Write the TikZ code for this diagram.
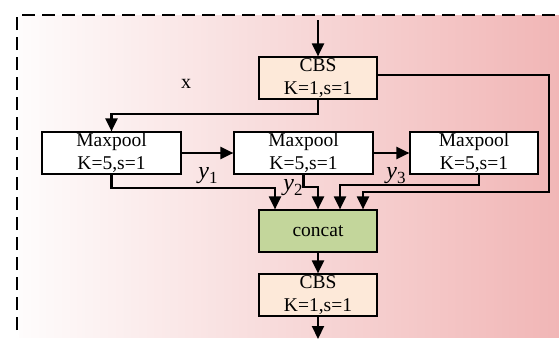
\documentclass[tikz,border=0pt]{standalone}
\usepackage{fontspec}
\setmainfont{Liberation Serif}
\usetikzlibrary{arrows.meta}
\definecolor{bgL}{RGB}{254,252,252}
\definecolor{bgR}{RGB}{241,182,182}
\definecolor{cbsfill}{RGB}{253,233,217}
\definecolor{catfill}{RGB}{195,214,155}
\newcommand{\ylab}[1]{{\fontsize{24}{24}\selectfont\textit{y}}\raisebox{-5pt}{\fontsize{17}{17}\selectfont #1}}
\begin{document}
\begin{tikzpicture}[x=1pt,y=-1pt,
  box/.style={draw=black,line width=1.2pt,inner sep=0pt,align=center,
    font=\fontsize{19.5}{23}\selectfont},
  cbsbox/.style={box,fill=cbsfill,minimum width=118pt,minimum height=42pt},
  catbox/.style={box,fill=catfill,minimum width=118pt,minimum height=42pt},
  mpbox/.style={box,fill=white,minimum height=42pt},
  arr/.style={line width=2.1pt,-{Triangle[length=13pt,width=12pt]}},
  lab/.style={font=\fontsize{20}{23}\selectfont,inner sep=0pt}]
\useasboundingbox (0,0) rectangle (559,340);
\shade[left color=bgL,right color=bgR] (19,15) rectangle (559,337);
\draw[line width=2.8pt,dash pattern=on 13pt off 7pt] (17,330) -- (17,15) -- (559,15);

\node[cbsbox] (cbs1) at (318,78) {CBS\\K=1,s=1};
\node[mpbox,minimum width=139pt] (mp1) at (111.5,153) {Maxpool\\K=5,s=1};
\node[mpbox,minimum width=139pt] (mp2) at (303.5,153) {Maxpool\\K=5,s=1};
\node[mpbox,minimum width=128pt] (mp3) at (474,153) {Maxpool\\K=5,s=1};
\node[catbox] (cat) at (318,231) {concat};
\node[cbsbox] (cbs2) at (318,295) {CBS\\K=1,s=1};

\coordinate (in) at (318,20);
\coordinate (out) at (318,339);

\node[lab] (xl) at (186,84) {x};
\node[lab] (y1) at (208,176) {\ylab{1}};
\node[lab] (y2) at (293,188) {\ylab{2}};
\node[lab] (y3) at (396,176) {\ylab{3}};

\draw[arr] (in) -- (cbs1.north);
\draw[arr] (cbs1.south) -- ++(0,14) -| (mp1.north);
\draw[arr] (mp1.east) -- (mp2.west);
\draw[arr] (mp2.east) -- (mp3.west);
\draw[arr] (mp1.south) |- ([xshift=-43pt,yshift=21pt]cat.north) -- ([xshift=-43pt]cat.north);
\draw[arr] (mp2.south) |- ([yshift=22pt]cat.north) -- (cat.north);
\draw[arr] ([xshift=5pt]mp3.south) |- ([xshift=22pt,yshift=24pt]cat.north) -- ([xshift=22pt]cat.north);
\draw[arr] ([yshift=3pt]cbs1.east) -- ++(171,0) |- ([xshift=45pt,yshift=17pt]cat.north) -- ([xshift=45pt]cat.north);
\draw[arr] (cat.south) -- (cbs2.north);
\draw[arr] (cbs2.south) -- (out);
\end{tikzpicture}
\end{document}
